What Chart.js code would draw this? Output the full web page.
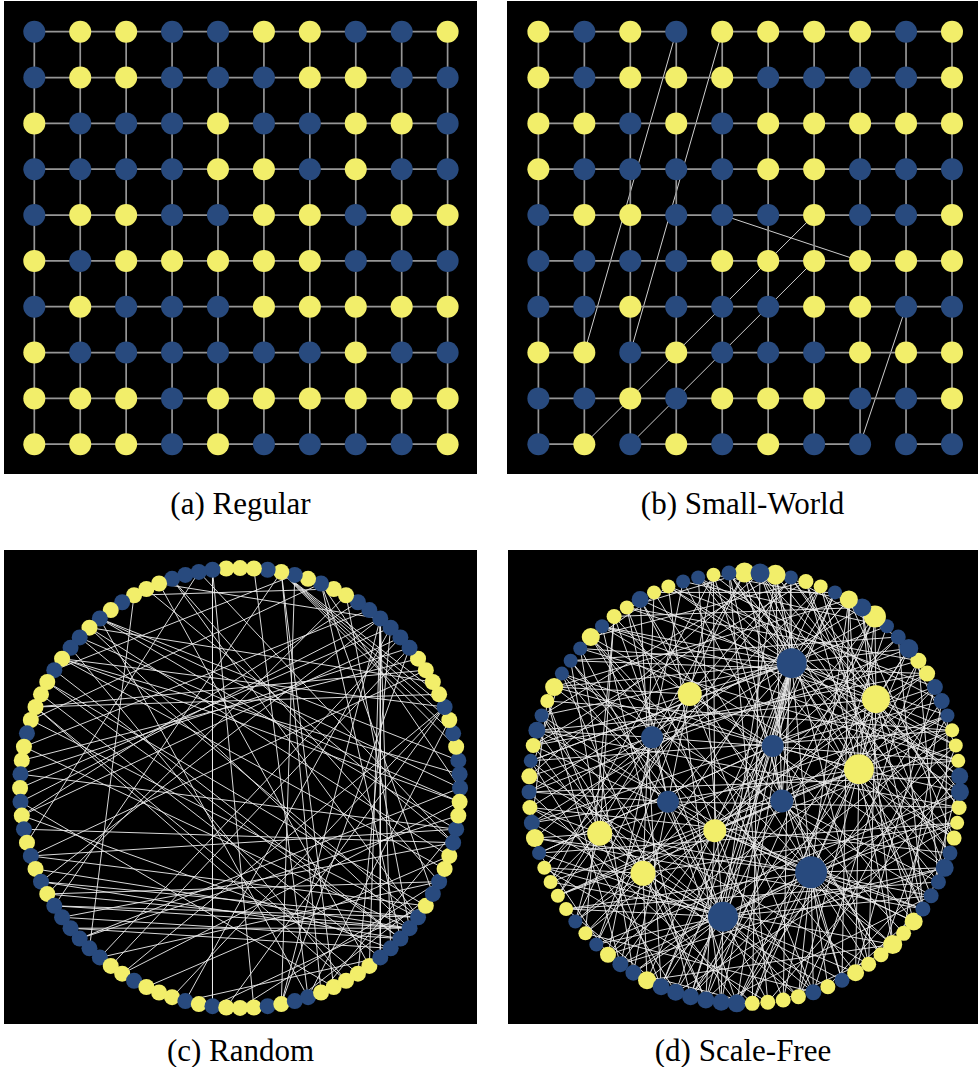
<!DOCTYPE html>
<html><head><meta charset="utf-8">
<script src="https://cdn.jsdelivr.net/npm/chart.js@4.4.1/dist/chart.umd.min.js"></script>
<style>
html,body{margin:0;padding:0;background:#fff;width:979px;height:1067px;overflow:hidden}
canvas{position:absolute;background:#000}
.cap{position:absolute;font-family:"Liberation Serif","Times New Roman",serif;font-size:31px;line-height:31px;text-align:center;color:#000;white-space:nowrap}
</style></head><body>
<canvas id="cA" width="473" height="473" style="left:4px;top:1px"></canvas>
<canvas id="cB" width="471" height="473" style="left:507px;top:1px"></canvas>
<canvas id="cC" width="473" height="474" style="left:4px;top:550px"></canvas>
<canvas id="cD" width="470" height="474" style="left:508px;top:550px"></canvas>
<div class="cap" id="capA" style="left:4px;width:473px;top:488px"></div>
<div class="cap" id="capB" style="left:507px;width:471px;top:488px"></div>
<div class="cap" id="capC" style="left:4px;width:473px;top:1035px"></div>
<div class="cap" id="capD" style="left:508px;width:470px;top:1035px"></div>
<script>
// ---------- data ----------
const captions = ['(a) Regular', '(b) Small-World', '(c) Random', '(d) Scale-Free'];
const BLUE = '#284a7e', YELLOW = '#f2ee6a';

// (a) regular lattice, node colours row by row (B = blue, Y = yellow)
const gridA = [
  "BYYBBYYBBY",
  "BYYBBBYYBB",
  "YBBBYBBYYB",
  "BBBBYYBYBB",
  "BYYBBYYBYY",
  "YBYYYYYBBB",
  "BYBBBYYYYY",
  "YBBBBBBYBB",
  "YYYBYYYYYY",
  "YYYBYBBBBY"];

// (b) small-world lattice
const gridB = [
  "YBYBYYYYBY",
  "YBYYYBBBBY",
  "YYBYBYYYYY",
  "YBBBBYYBBB",
  "BYYBBBYBBY",
  "BBBBYYYYYY",
  "BBYBBBYYBB",
  "YYBYBBBYYY",
  "BBYBYYYBBY",
  "BYBYBYBBBB"];
// removed lattice edges [row1,col1,row2,col2]
const bMissing = [[0,3,0,4],[7,1,7,2],[9,1,9,2],[9,7,9,8]];
// rewired long-range edges [row1,col1,row2,col2]
const bRewired = [[0,3,7,1],[0,4,7,2],[4,4,5,7],[4,6,9,1],[5,6,9,2],[6,8,9,7]];

// (c) random graph: 100 nodes on a circle, colours by index (counter-clockwise from east)
const cColors = "BBBYBYBYYY" + "YBBBBBBYYB" + "YBYBYYYBBB" + "BYYYBYBYBB" + "YBYYYYBYYB" +
                "YBYBYBYBYB" + "BBBBBYYBYY" + "YBYBYYYBYB" + "BYYYYYBBBB" + "BYBBYYBBYY";
const cEdges = [[0,19],[0,36],[0,62],[1,40],[2,36],[3,22],[4,22],
 [5,22],[5,80],[6,22],[6,40],[6,66],[6,70],[6,74],[7,22],[7,44],[8,37],[9,44],
 [9,55],[10,48],[11,49],[11,65],[11,78],[12,52],[12,64],[13,50],[13,71],
 [13,84],[14,51],[14,57],[14,78],[14,85],[14,86],[14,87],[14,31],[15,47],[16,52],
 [17,58],[17,89],[18,33],[19,88],[19,92],[19,45],[21,78],[21,41],[22,81],
 [22,82],[22,59],[24,80],[27,73],[27,76],[28,96],[28,54],
 [30,90],[30,93],[31,85],[32,96],[33,63],[36,80],[36,97],[37,95],
 [37,89],[38,90],[38,99],[39,83],[40,94],[40,99],[41,88],[42,88],[42,91],[43,86],
 [44,83],[44,84],[45,90],[47,89],[49,97],[51,82],[52,87],[53,96],
 [55,91],[55,97],[56,89],[57,90],[57,88],[58,93],[58,89],[59,90],[59,89],[60,96],[60,88],[61,89],
 [61,87],[62,98],[64,93],[66,99],[68,95],[71,86],[73,91],
 [75,93],[79,92],[81,97]];

// (d) scale-free graph: 87 nodes on the circle (k = 0 at top, counter-clockwise) + 13 inner hubs (87..99)
const dOuterColors = "YBYBBYYBYY" + "BYBBBYYBBY" + "BYBYBYBYYY" + "YBYBYBBYBB" + "BBBBYYYYBY" +
                     "BYYYYYYBBB" + "BBYYYBBYYY" + "BBBYYBBBYB" + "YBYYBYB";
const dOuterRadius = [10,7.5,7,7,7,7,7,8.5,7,7.5, 7,9,7,7,7,9,7,7,8.5,7.5,
  7,8,7.5,7.5,8,9,7,7,7,7, 7,7,7,7,8,8,8,9,8.5,8.5, 8.5,8.5,8.5,9,7.5,7.5,7.5,7.5,8,7.5,
  7.5,8.5,7.5,7.5,9.5,7.5,9,7.5,7.5,7.5, 9,7.5,7.5,7,7.5,9,8.5,7,7,7,
  7,8,8,8,8,9.5,7.5,7,11,9, 9,7,7,7.5,7,10,9.5];
const dInnerX = [-0.254,-0.429,0.219,0.610,0.131,0.531,-0.355,-0.672,-0.138,-0.471,-0.100,0.173,0.309];
const dInnerY = [0.436,0.235,0.579,0.412,0.195,0.087,-0.064,-0.210,-0.198,-0.396,-0.597,-0.060,-0.391];
const dInnerColors = "YBBYBYBYYYBBB";
const dInnerRadius = [12,11,15,14,11,15,11,12.5,11.5,12.5,15,11.5,16];
const dHubEdges = [
  [89,[38,39,40,41,42,43,0,1,3,84,85,86,81,78,5,10,70,66,15,20,24,87,91,98,97,99,8,12,17,75,80,61]],
  [99,[44,46,47,48,49,50,52,54,56,0,7,80,75,25,30,35,60,63,11,18,92,97,95,40,43,53,57,65,68]],
  [97,[30,33,36,37,45,48,51,20,12,3,85,78,60,26,9,94,96,93,27,34,39,42,58,64]],
  [92,[60,62,65,67,70,74,78,83,15,24,28,34,40,54,1,90,98,91,47,51,57,72,80,86]],
  [90,[75,78,73,68,79,86,10,18,26,32,52,57,2,43,89,60,64,69,82,84]],
  [87,[7,11,15,2,84,60,48,36,22,88,91,19,27,33]],
  [88,[11,18,21,25,67,74,0,93,29]],
  [91,[4,40,56,71,81,26,14,98]],
  [93,[22,14,64,80,43,33,8]],
  [94,[19,23,25,28,9,70,58,47,31,13,16,38]],
  [95,[2,13,35,69,76,57,41,17,98]],
  [96,[17,27,32,35,50,63,82,6,23,37,41]],
  [98,[1,38,59,72,85,29,53]]];
const dOuterEdges = [[0,31],[0,57],[1,45],[1,62],[2,28],[2,50],[3,59],[3,71],[4,34],[4,77],[5,42],
 [5,65],[6,53],[6,81],[7,38],[7,68],[8,46],[8,74],[9,32],[9,55],[10,40],[10,62],[11,51],[11,83],
 [12,36],[12,67],[13,48],[13,76],[14,41],[14,58],[15,54],[15,80],[16,35],[16,69],[17,47],[17,85],
 [18,43],[18,64],[19,56],[19,73],[20,39],[20,77],[21,52],[21,86],[22,44],[22,66],[23,61],[23,79],
 [24,49],[24,72],[25,57],[26,63],[27,45],[27,82],[28,54],[29,68],[29,84],[30,59],[31,73],[32,48],
 [33,65],[34,78],[35,60],[36,69],[37,54],[38,81],[39,63],[40,75],[41,67],[42,58],[43,71],[44,77],
 [45,66],[46,84],[47,70],[48,74],[49,61],[50,80],[51,72],[52,85],[53,68],[54,79],[55,71],[56,82],
 [57,76],[58,83],[59,74],[61,86],[62,80],[64,85],[65,84],[66,3],[67,10],[69,20],[70,29],[72,5],
 [73,13],[75,22],[76,31],[78,41],[79,9],[82,37],[83,19],[86,44],[0,8],[5,12],[14,21],[26,34],
 [36,44],[46,53],[58,66],[68,75],[76,84],[80,2],[30,38],[50,57],[60,70],[16,24]];

// ---------- helpers ----------
const col = ch => ch === 'B' ? BLUE : YELLOW;
function segs(list) {           // list of [[x1,y1],[x2,y2]] -> line points with gaps
  const pts = [];
  list.forEach(([a, b]) => { pts.push({x:a[0], y:a[1]}, {x:b[0], y:b[1]}, {x:null, y:null}); });
  return pts;
}
function makeChart(id, xr, yr, rev, edgeSets, nodes) {
  const ds = edgeSets.map(e => ({type:'line', data:e.pts, borderColor:e.color, borderWidth:e.width,
    pointRadius:0, fill:false, tension:0, spanGaps:false, order:2}));
  ds.push({type:'scatter', data:nodes.pts, pointRadius:nodes.r, pointBackgroundColor:nodes.c,
    pointBorderWidth:0, pointHoverRadius:nodes.r, order:1});
  new Chart(document.getElementById(id), {
    type:'scatter', data:{datasets:ds},
    options:{responsive:false, animation:false, events:[], layout:{padding:0, autoPadding:false},
      plugins:{legend:{display:false}, tooltip:{enabled:false}},
      scales:{x:{type:'linear', min:xr[0], max:xr[1], display:false},
              y:{type:'linear', min:yr[0], max:yr[1], reverse:rev, display:false}}}
  });
}
function gridChart(id, grid, xr, missing, extra) {
  const miss = new Set(missing.map(m => m.join(',')));
  const lat = [];
  for (let r = 0; r < 10; r++) for (let c = 0; c < 10; c++) {
    if (c < 9 && !miss.has([r,c,r,c+1].join(','))) lat.push([[c,r],[c+1,r]]);
    if (r < 9 && !miss.has([r,c,r+1,c].join(','))) lat.push([[c,r],[c,r+1]]);
  }
  const ex = extra.map(e => [[e[1],e[0]],[e[3],e[2]]]);
  const pts = [], rr = [], cc = [];
  grid.forEach((row, r) => row.split('').forEach((ch, c) => { pts.push({x:c, y:r}); rr.push(11); cc.push(col(ch)); }));
  makeChart(id, xr, [-0.67, 9.65], true,
    [{pts:segs(lat), color:'#969696', width:1.7}, {pts:segs(ex), color:'#cfcfcf', width:1}],
    {pts, r:rr, c:cc});
}

// ---------- panels ----------
gridChart('cA', gridA, [-0.66, 9.64], [], []);
gridChart('cB', gridB, [-0.683, 9.566], bMissing, bRewired);

// (c)
(function(){
  const n = cColors.length;
  const pos = i => [Math.cos(2*Math.PI*i/n), Math.sin(2*Math.PI*i/n)];
  const pts = [], rr = [], cc = [];
  for (let i = 0; i < n; i++) { const p = pos(i); pts.push({x:p[0], y:p[1]}); rr.push(8); cc.push(col(cColors[i])); }
  makeChart('cC', [-1.073, 1.077], [-1.073, 1.082], false,
    [{pts:segs(cEdges.map(e => [pos(e[0]), pos(e[1])])), color:'rgba(235,235,235,0.92)', width:1}],
    {pts, r:rr, c:cc});
})();

// (d)
(function(){
  const m = dOuterColors.length;
  const pos = k => {
    if (k < m) { const a = Math.PI/2 + 2*Math.PI*k/m; return [Math.cos(a), Math.sin(a)]; }
    return [dInnerX[k-m], dInnerY[k-m]];
  };
  const edges = [];
  dHubEdges.forEach(([h, list]) => list.forEach(k => edges.push([pos(h), pos(k)])));
  dOuterEdges.forEach(e => edges.push([pos(e[0]), pos(e[1])]));
  const pts = [], rr = [], cc = [];
  for (let k = 0; k < m; k++) { const p = pos(k); pts.push({x:p[0], y:p[1]}); rr.push(dOuterRadius[k]); cc.push(col(dOuterColors[k])); }
  for (let j = 0; j < dInnerX.length; j++) { pts.push({x:dInnerX[j], y:dInnerY[j]}); rr.push(dInnerRadius[j]); cc.push(col(dInnerColors[j])); }
  makeChart('cD', [-1.0975, 1.0835], [-1.0951, 1.1044], false,
    [{pts:segs(edges), color:'rgba(235,235,235,0.92)', width:1}],
    {pts, r:rr, c:cc});
})();

['capA','capB','capC','capD'].forEach((id, i) => document.getElementById(id).textContent = captions[i]);
</script>
</body></html>
